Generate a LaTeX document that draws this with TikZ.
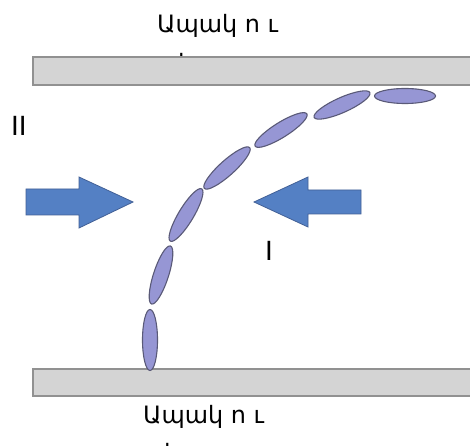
\documentclass[tikz,border=0pt]{standalone}
\usepackage{fontspec}
\setmainfont{Liberation Sans}
\newfontfamily\armfont{DejaVu Sans}
\usetikzlibrary{shapes.geometric}

\definecolor{plateFill}{RGB}{212,212,212}
\definecolor{plateEdge}{RGB}{145,145,145}
\definecolor{rodFill}{RGB}{150,150,212}
\definecolor{rodEdge}{RGB}{90,90,120}
\definecolor{pushFill}{RGB}{84,128,196}
\definecolor{pushEdge}{RGB}{66,96,150}

\tikzset{
  plate/.style={fill=plateFill, draw=plateEdge, line width=1.8bp},
  rod/.style={ellipse, draw=rodEdge, fill=rodFill, line width=1.1bp,
    minimum width=61bp, minimum height=15bp, inner sep=0pt},
  push/.style={fill=pushFill, draw=pushEdge, line width=0.8bp, line join=miter},
  glasslabel/.style={font=\armfont\fontsize{24}{28}\selectfont, inner sep=0pt, anchor=base west},
  numlabel/.style={font=\fontsize{28}{32}\selectfont, inner sep=0pt, anchor=base west}
}

\begin{document}
\begin{tikzpicture}[x=1bp,y=-1bp]
  \clip (0,0) rectangle (470,446);
  \fill[white] (0,0) rectangle (470,446);

  % glass labels (second line partly hidden)
  \node[glasslabel] (topname) at (157,33) {Ապակ ո ւ};
  \node[glasslabel] (topname2) at (178,72) {ի};
  \node[glasslabel] (botname) at (143,423) {Ապակ ո ւ};
  \node[glasslabel] (botname2) at (164,461) {ի};

  % glass plates
  \draw[plate] (33,57) rectangle (490,85);
  \draw[plate] (33,369) rectangle (490,396);

  % molecules bending from bottom plate to top plate
  \node[rod, rotate=90] (r1) at (150,340) {};
  \node[rod, rotate=72] (r2) at (161,275) {};
  \node[rod, rotate=59] (r3) at (186,215) {};
  \node[rod, rotate=42] (r4) at (227,168) {};
  \node[rod, rotate=32] (r5) at (281,130) {};
  \node[rod, rotate=24] (r6) at (342,105) {};
  \node[rod, rotate=0]  (r7) at (405,96) {};

  % pressure arrows
  \draw[push] (26,189) -- (79,189) -- (79,177) -- (133,202) -- (79,228) -- (79,215) -- (26,215) -- cycle;
  \draw[push] (361,190) -- (308,190) -- (308,177) -- (254,202) -- (308,227) -- (308,214) -- (361,214) -- cycle;

  % region labels
  \node[numlabel] (two) at (11,136) {II};
  \node[numlabel] (one) at (265,260) {I};
\end{tikzpicture}
\end{document}
